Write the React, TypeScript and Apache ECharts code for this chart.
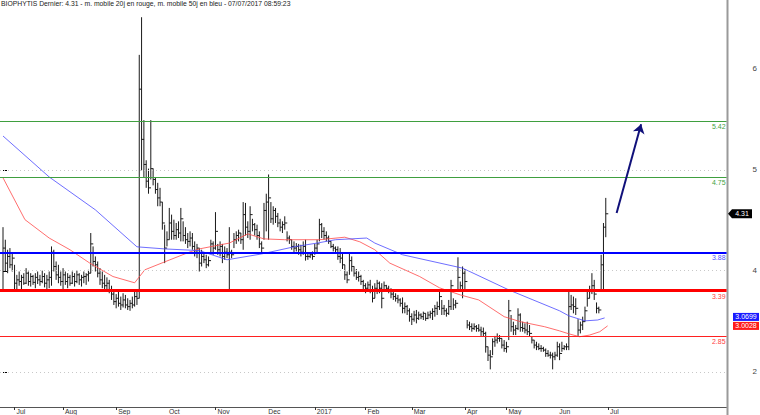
import React, { useEffect, useRef } from 'react';
import * as echarts from 'echarts';

// Daily bars (trading-day index 0 = 24 Jun 2016)
const highs = [
  4.15, 4.00, 3.88, 3.90, 3.85, 3.70, 3.58, 3.62, 3.58, 3.60,
  3.66, 3.62, 3.60, 3.58, 3.60, 3.62, 3.58, 3.63, 3.60, 3.58,
  3.62, 3.92, 3.88, 3.74, 3.70, 3.62, 3.66, 3.62, 3.60, 3.58,
  3.62, 3.60, 3.63, 3.60, 3.58, 3.62, 3.60, 3.64, 4.08, 3.92,
  3.80, 3.74, 3.66, 3.62, 3.58, 3.55, 3.52, 3.45, 3.40, 3.35,
  3.38, 3.32, 3.36, 3.34, 3.30, 3.28, 3.32, 3.40, 3.38, 6.21,
  6.66, 5.43, 4.95, 4.85, 5.43, 4.85, 4.75, 4.68, 4.62, 4.45,
  4.18, 4.10, 4.38, 4.30, 4.24, 4.20, 4.22, 4.38, 4.22, 4.15,
  4.08, 4.10, 4.08, 3.98, 3.95, 3.90, 3.88, 3.85, 3.82, 3.80,
  4.00, 3.98, 4.33, 3.95, 3.98, 3.95, 3.92, 3.90, 4.15, 3.88,
  4.08, 4.10, 4.12, 4.08, 4.45, 4.44, 4.22, 4.40, 4.25, 4.20,
  4.18, 4.10, 3.98, 4.44, 4.55, 4.78, 4.45, 4.40, 4.38, 4.32,
  4.25, 4.22, 4.28, 4.10, 4.05, 4.00, 3.98, 3.96, 3.95, 3.94,
  3.98, 4.00, 3.85, 3.84, 3.86, 3.95, 4.00, 4.25, 4.20, 4.15,
  4.10, 4.05, 3.98, 3.95, 3.92, 3.92, 3.90, 3.85, 3.70, 3.62,
  3.85, 3.80, 3.68, 3.65, 3.62, 3.58, 3.52, 3.48, 3.50, 3.52,
  3.45, 3.48, 3.52, 3.50, 3.48, 3.50, 3.46, 3.45, 3.42, 3.40,
  3.36, 3.34, 3.30, 3.31, 3.25, 3.22, 3.18, 3.12, 3.15, 3.16,
  3.14, 3.12, 3.14, 3.12, 3.14, 3.15, 3.18, 3.22, 3.26, 3.40,
  3.28, 3.22, 3.18, 3.28, 3.52, 3.30, 3.28, 3.79, 3.50, 3.68,
  3.65, 3.04, 3.02, 3.00, 3.00, 2.98, 2.99, 2.96, 2.95, 2.90,
  2.72, 2.68, 2.82, 2.85, 2.88, 2.86, 2.82, 2.80, 2.78, 3.28,
  3.10, 3.02, 2.98, 3.18, 3.12, 3.02, 3.00, 3.02, 2.98, 2.84,
  2.80, 2.78, 2.76, 2.74, 2.72, 2.70, 2.68, 2.66, 2.65, 2.66,
  2.78, 2.76, 2.78, 2.74, 2.76, 3.40, 3.34, 3.32, 3.30, 3.05,
  3.02, 3.08, 3.20, 3.38, 3.45, 3.60, 3.52, 3.25, 3.20, 3.82,
  4.20, 4.50,
];
const lows = [
  3.40, 3.62, 3.60, 3.66, 3.62, 3.40, 3.38, 3.45, 3.40, 3.46,
  3.47, 3.45, 3.44, 3.46, 3.42, 3.47, 3.45, 3.48, 3.43, 3.40,
  3.42, 3.45, 3.62, 3.52, 3.48, 3.45, 3.40, 3.46, 3.42, 3.45,
  3.47, 3.44, 3.48, 3.46, 3.44, 3.48, 3.46, 3.50, 3.60, 3.68,
  3.62, 3.55, 3.46, 3.42, 3.40, 3.38, 3.36, 3.28, 3.22, 3.18,
  3.20, 3.16, 3.19, 3.18, 3.16, 3.15, 3.18, 3.20, 3.22, 3.30,
  4.83, 4.75, 4.62, 4.55, 4.72, 4.65, 4.55, 4.40, 4.40, 4.12,
  3.72, 3.92, 4.00, 4.00, 4.00, 4.00, 4.02, 3.98, 3.98, 3.95,
  3.90, 3.92, 3.88, 3.80, 3.78, 3.62, 3.68, 3.72, 3.66, 3.68,
  3.85, 3.82, 3.88, 3.82, 3.80, 3.72, 3.76, 3.78, 3.40, 3.78,
  3.90, 3.95, 3.98, 3.95, 3.88, 4.05, 4.02, 4.00, 4.10, 4.05,
  4.00, 3.90, 3.85, 4.00, 4.10, 4.00, 4.20, 4.18, 4.20, 4.15,
  4.10, 4.08, 4.12, 3.98, 3.95, 3.88, 3.85, 3.86, 3.82, 3.80,
  3.82, 3.75, 3.76, 3.78, 3.76, 3.82, 3.85, 3.98, 4.02, 4.00,
  3.98, 3.95, 3.90, 3.86, 3.84, 3.76, 3.72, 3.65, 3.52, 3.48,
  3.58, 3.62, 3.56, 3.52, 3.50, 3.46, 3.40, 3.36, 3.38, 3.36,
  3.25, 3.30, 3.35, 3.36, 3.18, 3.38, 3.38, 3.36, 3.30, 3.28,
  3.26, 3.24, 3.20, 3.12, 3.12, 3.10, 3.02, 2.98, 3.02, 3.00,
  3.04, 3.05, 3.04, 3.03, 3.05, 3.06, 3.04, 3.08, 3.10, 3.16,
  3.10, 3.10, 3.08, 3.10, 3.16, 3.16, 3.18, 3.38, 3.38, 3.30,
  3.40, 2.94, 2.92, 2.90, 2.92, 2.90, 2.90, 2.85, 2.84, 2.65,
  2.55, 2.45, 2.62, 2.72, 2.76, 2.78, 2.70, 2.66, 2.65, 2.80,
  2.90, 2.86, 2.86, 2.92, 2.90, 2.90, 2.88, 2.86, 2.84, 2.76,
  2.70, 2.68, 2.68, 2.66, 2.66, 2.60, 2.60, 2.58, 2.45, 2.56,
  2.60, 2.56, 2.66, 2.68, 2.68, 2.68, 3.16, 3.12, 3.10, 2.85,
  2.88, 2.92, 3.02, 3.20, 3.30, 3.35, 3.28, 3.12, 3.12, 3.40,
  3.40, 4.03,
];
const closes = [
  3.90, 3.72, 3.80, 3.70, 3.78, 3.48, 3.52, 3.50, 3.55, 3.48,
  3.60, 3.50, 3.56, 3.49, 3.55, 3.52, 3.50, 3.56, 3.48, 3.52,
  3.55, 3.85, 3.68, 3.58, 3.55, 3.50, 3.58, 3.50, 3.55, 3.48,
  3.56, 3.50, 3.58, 3.52, 3.55, 3.56, 3.58, 3.60, 3.95, 3.74,
  3.70, 3.60, 3.52, 3.48, 3.45, 3.48, 3.40, 3.35, 3.26, 3.30,
  3.24, 3.22, 3.28, 3.22, 3.20, 3.24, 3.22, 3.32, 3.30, 5.80,
  5.20, 4.90, 4.70, 4.62, 4.85, 4.72, 4.60, 4.50, 4.45, 4.20,
  3.90, 4.00, 4.20, 4.10, 4.05, 4.12, 4.08, 4.25, 4.05, 4.00,
  3.98, 4.02, 3.92, 3.85, 3.90, 3.72, 3.80, 3.76, 3.70, 3.75,
  3.95, 3.90, 4.10, 3.88, 3.92, 3.80, 3.85, 3.82, 3.85, 3.82,
  4.00, 4.05, 4.08, 4.00, 4.30, 4.15, 4.10, 4.30, 4.18, 4.12,
  4.05, 3.95, 3.90, 4.35, 4.45, 4.50, 4.25, 4.35, 4.28, 4.20,
  4.15, 4.18, 4.20, 4.02, 4.00, 3.92, 3.90, 3.92, 3.88, 3.85,
  3.92, 3.80, 3.80, 3.82, 3.80, 3.90, 3.95, 4.18, 4.10, 4.05,
  4.02, 3.98, 3.92, 3.90, 3.88, 3.80, 3.78, 3.70, 3.58, 3.52,
  3.75, 3.68, 3.60, 3.55, 3.56, 3.50, 3.45, 3.42, 3.46, 3.40,
  3.30, 3.42, 3.48, 3.42, 3.30, 3.45, 3.42, 3.40, 3.35, 3.32,
  3.30, 3.28, 3.24, 3.18, 3.20, 3.15, 3.08, 3.05, 3.10, 3.06,
  3.10, 3.08, 3.12, 3.06, 3.10, 3.12, 3.14, 3.18, 3.20, 3.32,
  3.18, 3.15, 3.12, 3.20, 3.45, 3.22, 3.24, 3.55, 3.45, 3.60,
  3.50, 2.98, 2.96, 2.94, 2.96, 2.94, 2.92, 2.90, 2.88, 2.72,
  2.62, 2.60, 2.78, 2.80, 2.82, 2.82, 2.74, 2.70, 2.72, 3.15,
  2.96, 2.92, 2.94, 3.10, 2.95, 2.94, 2.92, 2.90, 2.88, 2.80,
  2.74, 2.72, 2.70, 2.70, 2.68, 2.64, 2.62, 2.62, 2.60, 2.62,
  2.72, 2.64, 2.70, 2.72, 2.72, 3.20, 3.22, 3.20, 3.18, 2.92,
  2.98, 3.02, 3.15, 3.30, 3.38, 3.45, 3.35, 3.18, 3.16, 3.70,
  4.15, 4.31,
];

// Moving averages (index, value)
const ma20Idx = [0, 9.5, 20, 29, 37.6, 47.6, 57, 61.4, 70, 81, 85, 98, 106, 113, 122, 137, 148, 154.5, 161, 167.5, 180.4, 189, 198, 206, 217, 224, 234.5, 241, 245, 249.7, 254, 258.4, 261.8];
const ma20Val = [4.74, 4.24, 4.02, 3.88, 3.72, 3.56, 3.485, 3.64, 3.735, 3.855, 3.89, 3.96, 4.07, 4.01, 4.0, 4.0, 4.03, 3.975, 3.88, 3.72, 3.56, 3.425, 3.34, 3.28, 3.08, 3.02, 2.96, 2.91, 2.875, 2.84, 2.86, 2.9, 2.97];
const ma50Idx = [0, 20, 40, 58, 70, 85, 97, 112, 126, 136, 144, 157.5, 161, 173, 199, 219, 241, 245, 252, 257.5, 260.5];
const ma50Val = [5.24, 4.75, 4.357, 3.915, 3.89, 3.87, 3.76, 3.83, 3.915, 3.96, 4.0, 4.02, 3.96, 3.82, 3.66, 3.4, 3.15, 3.09, 3.03, 3.04, 3.065];

// Axis
const monthIdx = [5, 26, 49, 71, 92, 114, 135, 157, 177, 200, 218, 240, 262];
const monthLabels = ['Jul', 'Aug', 'Sep', 'Oct', 'Nov', 'Dec', '2017', 'Feb', 'Mar', 'Apr', 'May', 'Jun', 'Jul'];
const monthTickIdx = [5, 26, 49, 92, 135, 157, 177, 200, 218, 262];
const yLabelVals = [6.053, 4.835, 3.628, 2.421];
const yLabels = ['6', '5', '4', '2'];
const yTickVals = [4.835, 3.628, 2.421];

// Horizontal levels
const levelVals = [5.42, 4.75, 3.855, 3.39, 2.85];
const levelLabels = ['5.42', '4.75', '3.88', '3.39', '2.85'];

const lastPrice = 4.31;
const ma50LastLabel = '3.0699';
const ma20LastLabel = '3.0028';
const ma50Last = 3.065;
const arrowFrom = [265.7, 4.32];
const arrowTo = [276.3, 5.38];

const titleText = 'BIOPHYTIS Dernier: 4.31 - m. mobile 20j en rouge, m. mobile 50j en bleu - 07/07/2017 08:59:23';

const FONT = '"Liberation Sans", Arial, sans-serif';

export default function App() {
  const ref = useRef<HTMLDivElement>(null);
  useEffect(() => {
    if (!ref.current) return;
    const chart = echarts.init(ref.current, undefined, { renderer: 'svg' });
    const bars = highs.map((h, i) => [i, h, lows[i], closes[i]]);
    const ma20 = ma20Idx.map((x, i) => [x, ma20Val[i]]);
    const ma50 = ma50Idx.map((x, i) => [x, ma50Val[i]]);
    const levelColors = ['#3f9f3f', '#3f9f3f', '#0000ff', '#ff0000', '#ff2020'];
    const levelWidths = [1, 1, 2, 3, 1];
    const levelTextColors = ['#3f9f3f', '#3f9f3f', '#5050ff', '#ff4040', '#ff4040'];

    const option: any = {
      animation: false,
      backgroundColor: '#ffffff',
      title: {
        text: titleText,
        left: 1,
        top: 0,
        padding: 0,
        textStyle: { fontSize: 6.8, fontWeight: 'normal', color: '#222', fontFamily: FONT },
      },
      grid: { left: 0, right: 33, top: 0, bottom: 8 },
      xAxis: {
        type: 'value',
        min: -1.3,
        max: 313.3,
        splitLine: { show: false },
        axisLine: { show: true, onZero: false, lineStyle: { color: '#555', width: 1 } },
        axisTick: { show: true, customValues: monthTickIdx, length: 3, lineStyle: { color: '#333' } },
        axisLabel: {
          show: true,
          customValues: monthIdx,
          align: 'left',
          margin: 1,
          padding: [0, 0, 0, 2],
          fontSize: 6.8,
          color: '#333',
          fontFamily: FONT,
          formatter: (v: number) => {
            const k = monthIdx.indexOf(Math.round(v));
            return k >= 0 ? monthLabels[k] : '';
          },
        },
      },
      yAxis: {
        type: 'value',
        position: 'right',
        min: 2.0,
        max: 6.866,
        splitLine: { show: false },
        axisLine: { show: false },
        axisTick: { show: true, customValues: yTickVals, length: 4, lineStyle: { color: '#000' } },
        axisLabel: {
          show: true,
          customValues: yLabelVals,
          margin: 26,
          fontSize: 8,
          color: '#444',
          fontFamily: FONT,
          formatter: (v: number) => {
            let best = 0;
            yLabelVals.forEach((y, k) => { if (Math.abs(y - v) < Math.abs(yLabelVals[best] - v)) best = k; });
            return yLabels[best];
          },
        },
      },
      series: [
        {
          type: 'custom',
          name: 'bars',
          clip: true,
          data: bars,
          encode: { x: 0, y: [1, 2, 3] },
          renderItem: (params: any, api: any) => {
            const i = api.value(0);
            const ph = api.coord([i, api.value(1)]);
            const pl = api.coord([i, api.value(2)]);
            const pc = api.coord([i, api.value(3)]);
            return {
              type: 'group',
              children: [
                { type: 'line', shape: { x1: ph[0], y1: ph[1], x2: pl[0], y2: pl[1] }, style: { stroke: '#1a1a1a', lineWidth: 1 } },
                { type: 'line', shape: { x1: pc[0], y1: pc[1], x2: pc[0] + 2.5, y2: pc[1] }, style: { stroke: '#1a1a1a', lineWidth: 1 } },
              ],
            };
          },
        },
        {
          type: 'line',
          name: 'ma20',
          data: ma20,
          showSymbol: false,
          symbol: 'none',
          lineStyle: { color: '#ff4a4a', width: 1, opacity: 0.8 },
          silent: true,
          markLine: {
            silent: true,
            symbol: 'none',
            animation: false,
            data: [
              ...yTickVals.map((v) => ({
                yAxis: v,
                lineStyle: { color: '#c8c8c8', width: 1, type: [1, 3] },
                label: { show: false },
              })),
              ...levelVals.map((v, k) => ({
                yAxis: v,
                lineStyle: { color: levelColors[k], width: levelWidths[k], type: 'solid' },
                label: {
                  show: true,
                  position: 'insideEndBottom',
                  formatter: levelLabels[k],
                  color: levelTextColors[k],
                  fontSize: 7,
                  fontFamily: FONT,
                  distance: [1, 2],
                },
              })),
            ],
          },
        },
        {
          type: 'line',
          name: 'ma50',
          data: ma50,
          showSymbol: false,
          symbol: 'none',
          lineStyle: { color: '#4a4aff', width: 1, opacity: 0.8 },
          silent: true,
          markLine: {
            silent: true,
            symbol: ['none', 'arrow'],
            symbolSize: 9,
            animation: false,
            lineStyle: { color: '#10107a', width: 2, type: 'solid' },
            label: { show: false },
            data: [[{ coord: arrowFrom }, { coord: arrowTo }]],
          },
        },
      ],
    };
    chart.setOption(option);

    const py = (v: number) => chart.convertToPixel({ xAxisIndex: 0, yAxisIndex: 0 }, [0, v])[1];
    const yp = py(lastPrice);
    const yb = py(ma50Last) - 1;
    const yr = yb + 9;
    chart.setOption({
      graphic: [
        { type: 'line', shape: { x1: 727.5, y1: 0, x2: 727.5, y2: 415 }, style: { stroke: '#9a9a9a', lineWidth: 2 }, z: 1 },
        {
          type: 'polygon',
          shape: { points: [[728, yp], [732, yp - 4.5], [752, yp - 4.5], [752, yp + 4.5], [732, yp + 4.5]] },
          style: { fill: '#000' },
          z: 10,
        },
        { type: 'text', x: 742, y: yp, style: { text: '4.31', fill: '#fff', fontSize: 7, fontFamily: FONT, align: 'center', verticalAlign: 'middle' }, z: 11 },
        { type: 'rect', shape: { x: 733, y: yb - 4, width: 26, height: 8 }, style: { fill: '#1a1aff' }, z: 10 },
        { type: 'text', x: 746, y: yb, style: { text: ma50LastLabel, fill: '#fff', fontSize: 7, fontFamily: FONT, align: 'center', verticalAlign: 'middle' }, z: 11 },
        { type: 'rect', shape: { x: 733, y: yr - 4, width: 26, height: 8 }, style: { fill: '#ff1a1a' }, z: 10 },
        { type: 'text', x: 746, y: yr, style: { text: ma20LastLabel, fill: '#fff', fontSize: 7, fontFamily: FONT, align: 'center', verticalAlign: 'middle' }, z: 11 },
      ],
    });
    return () => chart.dispose();
  }, []);
  return <div ref={ref} style={{ position: 'fixed', left: 0, top: 0, width: 760, height: 415, background: '#fff' }} />;
}
